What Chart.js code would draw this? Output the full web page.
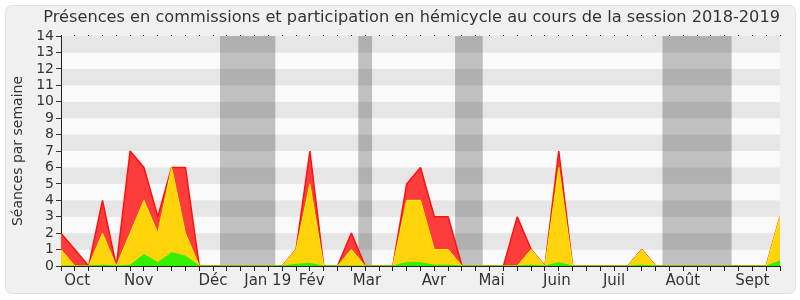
<!DOCTYPE html>
<html>
<head>
<meta charset="utf-8">
<script src="https://cdn.jsdelivr.net/npm/chart.js@4.4.1/dist/chart.umd.min.js"></script>
<style>
  html, body { margin: 0; padding: 0; background: #fff; }
  #wrap { width: 800px; height: 300px; }
</style>
</head>
<body>
<div id="wrap"><canvas id="chart" width="800" height="300"></canvas></div>
<script>
// Semaines de la session (index 0 = première semaine d'octobre 2018)
const semaines = Array.from({ length: 53 }, (_, i) => i);

// Couche verte (bas de la pile)
const seriesVert = [0, 0, 0, 0.05, 0, 0.05, 0.7, 0.2, 0.8, 0.6, 0,
    0, 0, 0, 0, 0, 0, 0.1, 0.15, 0, 0, 0, 0, 0, 0,
    0.2, 0.2, 0.05, 0.05, 0, 0, 0, 0, 0, 0.05, 0, 0.2, 0,
    0, 0, 0, 0, 0.05, 0, 0, 0, 0, 0, 0, 0, 0, 0, 0.3];

// Couche jaune (milieu)
const seriesJaune = [1, 0, 0, 1.95, 0, 1.95, 3.3, 1.8, 5.2, 1.4, 0,
    0, 0, 0, 0, 0, 0, 0.9, 4.85, 0, 0, 1, 0, 0, 0,
    3.8, 3.8, 0.95, 0.95, 0, 0, 0, 0, 0, 0.95, 0, 5.8, 0,
    0, 0, 0, 0, 0.95, 0, 0, 0, 0, 0, 0, 0, 0, 0, 2.7];

// Couche rouge (haut de la pile)
const seriesRouge = [1, 1, 0, 2, 0, 5, 2, 1, 0, 4, 0,
    0, 0, 0, 0, 0, 0, 0, 2, 0, 0, 1, 0, 0, 0,
    1, 2, 2, 2, 0, 0, 0, 0, 3, 0, 0, 1, 0,
    0, 0, 0, 0, 0, 0, 0, 0, 0, 0, 0, 0, 0, 0, 0];

// Mois (position en semaines)
const moisLabels = ['Oct', 'Nov', 'Déc', 'Jan 19', 'Fév', 'Mar', 'Avr', 'Mai', 'Juin', 'Juil', 'Août', 'Sept'];
const moisPositions = [1.17, 5.62, 10.99, 14.95, 18.13, 22.13, 26.97, 31.14, 35.86, 40.0, 44.97, 50.0];

// Vacances parlementaires (début, fin en semaines)
const vacancesDebut = [11.5, 21.5, 28.5, 43.5];
const vacancesFin = [15.5, 22.5, 30.5, 48.5];

const FONT = '"DejaVu Sans", sans-serif';

const toPoints = arr => arr.map((v, i) => ({ x: semaines[i], y: v }));

// Fond: cadre gris, bandes horizontales, vacances
const fondPlugin = {
    id: 'fond',
    beforeDraw(chart) {
        const ctx = chart.ctx;
        const area = chart.chartArea;
        const y = chart.scales.y;
        const x = chart.scales.x;
        ctx.save();
        ctx.fillStyle = '#ffffff';
        ctx.fillRect(0, 0, chart.width, chart.height);
        ctx.beginPath();
        ctx.roundRect(5.5, 5.5, 790, 288, 6);
        ctx.fillStyle = '#f0f0f0';
        ctx.fill();
        ctx.strokeStyle = '#e2e2e2';
        ctx.lineWidth = 1;
        ctx.stroke();

        for (let k = 0; k < 14; k++) {
            const top = y.getPixelForValue(k + 1);
            const bottom = y.getPixelForValue(k);
            ctx.fillStyle = k % 2 === 1 ? '#e6e6e6' : '#fafafa';
            ctx.fillRect(area.left, top, area.right - area.left, bottom - top);
        }

        ctx.fillStyle = 'rgba(0,0,0,0.23)';
        vacancesDebut.forEach((d, i) => {
            const x1 = x.getPixelForValue(d);
            const x2 = x.getPixelForValue(vacancesFin[i]);
            ctx.fillRect(x1, area.top, x2 - x1, area.bottom - area.top);
        });
        ctx.restore();
    }
};

new Chart(document.getElementById('chart'), {
    type: 'line',
    data: {
        datasets: [
            {
                label: 'Vert',
                data: toPoints(seriesVert),
                borderColor: '#22ee00',
                backgroundColor: '#33f000',
                borderWidth: 1,
                fill: 'origin'
            },
            {
                label: 'Jaune',
                data: toPoints(seriesJaune),
                borderColor: '#ffee00',
                backgroundColor: '#ffd40a',
                borderWidth: 1,
                fill: '-1'
            },
            {
                label: 'Rouge',
                data: toPoints(seriesRouge),
                borderColor: '#ff1010',
                backgroundColor: '#ff3c3c',
                borderWidth: 1.5,
                fill: '-1'
            }
        ]
    },
    options: {
        responsive: false,
        animation: false,
        events: [],
        layout: { padding: { left: 0, right: 20, top: 0, bottom: 0 } },
        elements: { point: { radius: 0 }, line: { tension: 0, borderJoinStyle: 'bevel' } },
        plugins: {
            legend: { display: false },
            tooltip: { enabled: false },
            title: {
                display: true,
                align: 'end',
                text: 'Présences en commissions et participation en hémicycle au cours de la session 2018-2019',
                color: '#333',
                font: { family: FONT, size: 16.2, weight: 'normal' },
                padding: { top: 8, bottom: 8.6 }
            }
        },
        scales: {
            x: {
                type: 'linear',
                min: 0,
                max: 52,
                position: 'bottom',
                weight: 0,
                ticks: { stepSize: 1, autoSkip: false, callback: () => '', maxRotation: 0 },
                grid: { drawOnChartArea: false, tickLength: 5, color: '#222' },
                border: { display: true, color: '#222' },
                afterFit: s => { s.height = 6; }
            },
            xMois: {
                type: 'linear',
                min: 0,
                max: 52,
                position: 'bottom',
                weight: 1,
                afterBuildTicks: s => { s.ticks = moisPositions.map(v => ({ value: v })); },
                ticks: {
                    autoSkip: false,
                    maxRotation: 0,
                    padding: 0,
                    color: '#333',
                    font: { family: FONT, size: 15 },
                    callback: (v, i) => moisLabels[i]
                },
                grid: { display: false, drawTicks: false },
                border: { display: false },
                afterFit: s => { s.height = 28; }
            },
            xTop: {
                type: 'linear',
                min: 0,
                max: 52,
                position: 'top',
                ticks: { stepSize: 1, autoSkip: false, callback: () => '' },
                grid: { drawOnChartArea: false, tickLength: 1, color: '#000' },
                border: { display: false },
                afterFit: s => { s.height = 0; }
            },
            y: {
                stacked: true,
                min: 0,
                max: 14,
                ticks: {
                    stepSize: 1,
                    autoSkip: false,
                    padding: 2,
                    color: '#333',
                    font: { family: FONT, size: 14 }
                },
                grid: { drawOnChartArea: false, tickLength: 5, color: '#333' },
                border: { display: true, color: '#222' },
                title: {
                    display: true,
                    text: 'Séances par semaine',
                    color: '#333',
                    font: { family: FONT, size: 14 },
                    padding: { top: 10, bottom: 0 }
                },
                afterFit: s => { s.width = 61; }
            }
        }
    },
    plugins: [fondPlugin]
});
</script>
</body>
</html>
